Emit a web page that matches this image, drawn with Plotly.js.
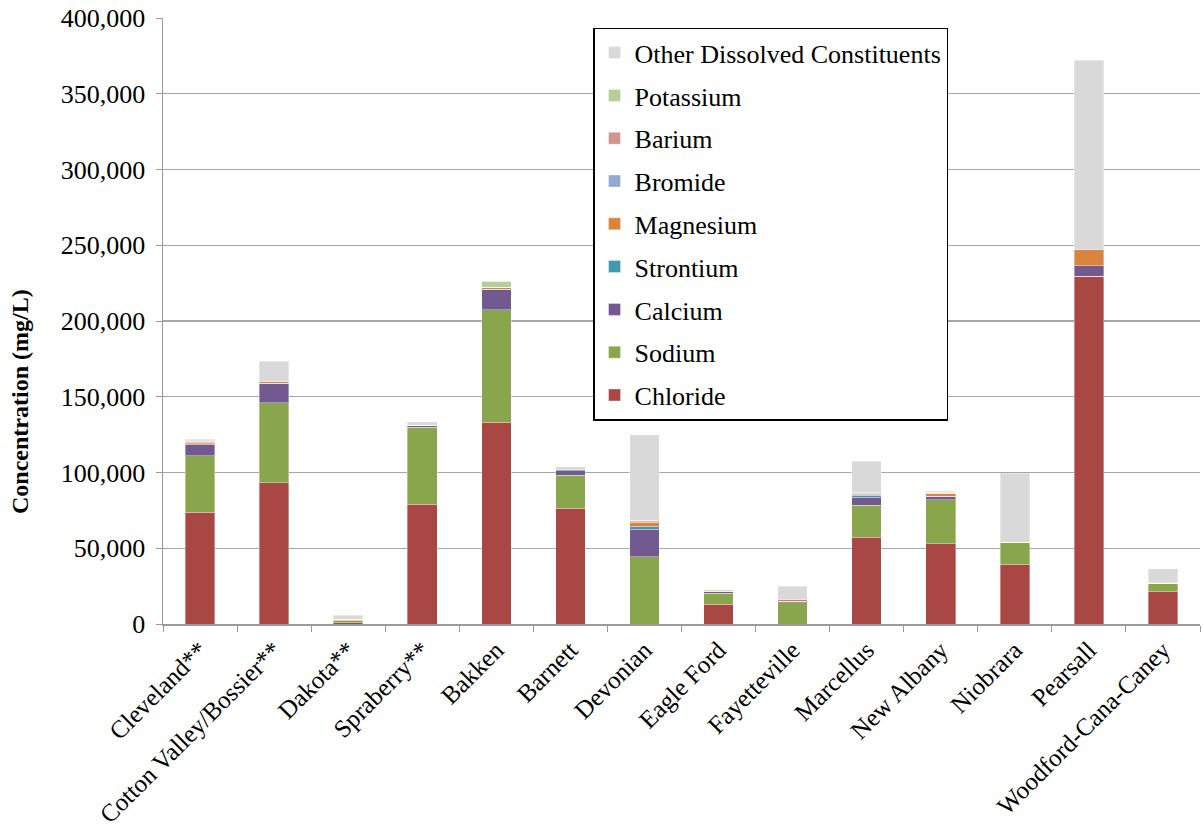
<!DOCTYPE html>
<html>
<head>
<meta charset="utf-8">
<script src="https://cdn.plot.ly/plotly-3.0.1.min.js"></script>
<style>html,body{margin:0;padding:0;background:#fff;}#chart{width:1203px;height:832px;}</style>
</head>
<body>
<div id="chart"></div>
<script>
var categories = ["Cleveland**", "Cotton Valley/Bossier**", "Dakota**", "Spraberry**", "Bakken", "Barnett", "Devonian", "Eagle Ford", "Fayetteville", "Marcellus", "New Albany", "Niobrara", "Pearsall", "Woodford-Cana-Caney"];
var chloride  = [73900, 93400, 800, 79100, 133100, 76500, 0, 13000, 0, 57400, 53100, 39300, 229400, 21300];
var sodium    = [37300, 52700, 1800, 50700, 74300, 21700, 44300, 7200, 14000, 20900, 28900, 14700, 0, 5500];
var calcium   = [7400, 12700, 700, 1300, 13200, 2900, 18400, 1000, 1100, 5500, 2400, 0, 7000, 0];
var strontium = [300, 100, 0, 0, 300, 700, 1800, 200, 0, 1300, 0, 0, 0, 0];
var magnesium = [1200, 900, 0, 0, 1100, 400, 2600, 200, 900, 500, 2000, 0, 10500, 0];
var bromide   = [300, 0, 0, 0, 200, 600, 500, 0, 0, 600, 0, 0, 0, 0];
var barium    = [200, 0, 0, 0, 100, 500, 800, 300, 0, 400, 200, 0, 0, 0];
var potassium = [800, 200, 0, 0, 3900, 600, 0, 700, 0, 500, 300, 0, 0, 800];
var other     = [400, 13300, 2400, 2500, 0, 0, 56400, 0, 8800, 20200, 600, 45600, 125300, 8800];

var seriesNames = ["Chloride", "Sodium", "Calcium", "Strontium", "Magnesium", "Bromide", "Barium", "Potassium", "Other Dissolved Constituents"];
var seriesValues = [chloride, sodium, calcium, strontium, magnesium, bromide, barium, potassium, other];
var seriesColors = ["#A94744", "#8AA64C", "#725A91", "#4198AF", "#DB843D", "#93A9D0", "#D09493", "#B9CD97", "#D9D9D9"];
var yTitle = "Concentration (mg/L)";

var traces = seriesNames.map(function(n, i) {
  return {
    type: "bar",
    name: n,
    x: categories,
    y: seriesValues[i],
    legendgroup: "g" + i,
    legendrank: 1000 - i,
    marker: {color: seriesColors[i], line: {color: "rgba(255,255,255,0.45)", width: 0.8}},
    hoverinfo: "x+y+name"
  };
});

var font = "'Liberation Serif', 'Times New Roman', Times, serif";
var layout = {
  width: 1203, height: 832,
  barmode: "stack",
  bargap: 0.6,
  paper_bgcolor: "#fff", plot_bgcolor: "#fff",
  margin: {l: 163, r: 3, t: 18, b: 208},
  font: {family: font, color: "#000", size: 24},
  showlegend: true,
  legend: {
    x: 0.4147, y: 0.984, xanchor: "left", yanchor: "top",
    traceorder: "grouped",
    tracegroupgap: 6,
    bordercolor: "#000", borderwidth: 1.5,
    bgcolor: "#fff",
    font: {family: font, size: 26, color: "#000"},
    itemwidth: 30
  },
  xaxis: {
    type: "category",
    tickangle: -45,
    ticks: "outside", tickson: "boundaries", ticklen: 6, tickcolor: "#9a9a9a",
    showline: true, linecolor: "#9a9a9a", linewidth: 1.5,
    showgrid: false,
    tickfont: {family: font, size: 25, color: "#000"},
    automargin: false
  },
  yaxis: {
    range: [0, 400000],
    tickvals: [0, 50000, 100000, 150000, 200000, 250000, 300000, 350000, 400000],
    tickformat: ",",
    ticks: "outside", ticklen: 6, tickcolor: "#9a9a9a",
    ticklabelstandoff: 5,
    showline: true, linecolor: "#9a9a9a", linewidth: 1.5,
    showgrid: true, gridcolor: "#a6a6a6", gridwidth: 1.2,
    zeroline: false,
    tickfont: {family: font, size: 26, color: "#000"},
    automargin: false
  },
  annotations: [{
    text: "<b>" + yTitle + "</b>",
    xref: "paper", yref: "paper",
    x: -0.1379, y: 0.368, xanchor: "center", yanchor: "middle",
    textangle: -90, showarrow: false,
    font: {family: font, size: 24, color: "#000"}
  }]
};

Plotly.newPlot("chart", traces, layout, {displayModeBar: false, staticPlot: true});
</script>
</body>
</html>
